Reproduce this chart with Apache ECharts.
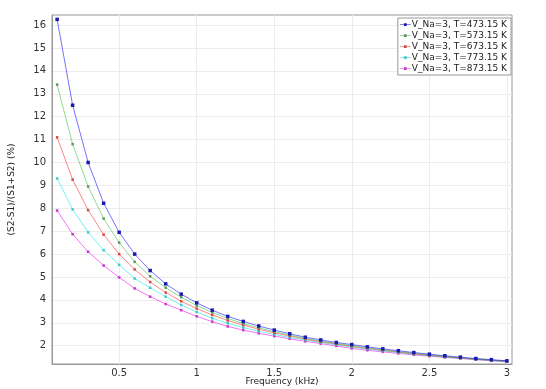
<!DOCTYPE html>
<html>
<head>
<meta charset="utf-8">
<script src="https://cdn.jsdelivr.net/npm/echarts@6/dist/echarts.min.js"></script>
<style>
  html, body { margin: 0; padding: 0; background: #fff; }
  #chart { width: 546px; height: 389px; }
</style>
</head>
<body>
<div id="chart"></div>
<script>
// Frequency points (kHz)
const freq = [0.1, 0.2, 0.3, 0.4, 0.5, 0.6, 0.7, 0.8, 0.9, 1.0,
              1.1, 1.2, 1.3, 1.4, 1.5, 1.6, 1.7, 1.8, 1.9, 2.0,
              2.1, 2.2, 2.3, 2.4, 2.5, 2.6, 2.7, 2.8, 2.9, 3.0];

const seriesNames = [
    'V_Na=3, T=473.15 K',
    'V_Na=3, T=573.15 K',
    'V_Na=3, T=673.15 K',
    'V_Na=3, T=773.15 K',
    'V_Na=3, T=873.15 K'
];

// tick positions
const xTicks = [0.5, 1, 1.5, 2, 2.5, 3];
const yTicks = [2, 3, 4, 5, 6, 7, 8, 9, 10, 11, 12, 13, 14, 15, 16];

// Values, (S2-S1)/(S1+S2) in %
const t473 = [16.25, 12.5, 10.0, 8.22, 6.95, 6.0, 5.28, 4.7, 4.25, 3.87,
              3.55, 3.28, 3.06, 2.86, 2.68, 2.52, 2.37, 2.25, 2.14, 2.05,
              1.95, 1.86, 1.78, 1.70, 1.63, 1.56, 1.50, 1.44, 1.39, 1.34];
const t573 = [13.4, 10.8, 8.95, 7.55, 6.5, 5.66, 5.03, 4.53, 4.12, 3.75,
              3.45, 3.19, 2.97, 2.78, 2.61, 2.46, 2.32, 2.2, 2.1, 2.0,
              1.91, 1.82, 1.74, 1.67, 1.60, 1.53, 1.47, 1.42, 1.37, 1.33];
const t673 = [11.1, 9.25, 7.92, 6.85, 6.0, 5.33, 4.78, 4.32, 3.94, 3.62,
              3.34, 3.1, 2.9, 2.72, 2.56, 2.42, 2.29, 2.17, 2.07, 1.97,
              1.88, 1.80, 1.72, 1.65, 1.58, 1.52, 1.46, 1.41, 1.36, 1.32];
const t773 = [9.3, 7.95, 6.95, 6.17, 5.53, 4.93, 4.53, 4.14, 3.78, 3.47,
              3.2, 2.98, 2.79, 2.63, 2.49, 2.36, 2.25, 2.14, 2.04, 1.94,
              1.85, 1.77, 1.70, 1.63, 1.56, 1.50, 1.45, 1.40, 1.35, 1.31];
const t873 = [7.9, 6.87, 6.1, 5.5, 4.98, 4.5, 4.14, 3.82, 3.55, 3.28,
              3.05, 2.84, 2.68, 2.54, 2.42, 2.3, 2.19, 2.09, 1.99, 1.88,
              1.80, 1.73, 1.66, 1.60, 1.54, 1.49, 1.44, 1.39, 1.34, 1.30];

const lineColors = ['#0000ff', '#33bb33', '#ff2222', '#00e5e5', '#ee00ee'];
const markColors = ['#1a1ab0', '#5a9a5a', '#dd4444', '#40c8c8', '#cc33cc'];

const allValues = [t473, t573, t673, t773, t873];

// legend glyph: short line with a small square marker on it
const legendIcon = 'path://M0,4.6L12,4.6L12,5.4L0,5.4Z M4.5,3.5L7.5,3.5L7.5,6.5L4.5,6.5Z';

const chart = echarts.init(document.getElementById('chart'));

const series = allValues.map((vals, i) => ({
    name: seriesNames[i],
    type: 'line',
    data: freq.map((f, j) => [f, vals[j]]),
    symbol: 'rect',
    symbolSize: i === 0 ? 3.5 : 2.5,
    showSymbol: true,
    itemStyle: { color: markColors[i] },
    lineStyle: { color: lineColors[i], width: 1, opacity: 0.55 },
    emphasis: { disabled: true },
    z: 10 - i
}));

chart.setOption({
    backgroundColor: '#fff',
    animation: false,
    textStyle: { fontFamily: 'DejaVu Sans' },
    grid: {
        left: 52, right: 34, top: 15, bottom: 25,
        outerBoundsMode: 'none',
        containLabel: false,
        show: true, borderColor: '#999', borderWidth: 1
    },
    legend: {
        right: 35, top: 18,
        orient: 'vertical',
        backgroundColor: '#fff',
        borderColor: '#999',
        borderWidth: 1,
        padding: [2, 4, 2, 2],
        itemGap: 2,
        itemWidth: 11,
        itemHeight: 8,
        textStyle: { fontSize: 9, color: '#222', padding: [0, 0, 0, -4] },
        data: seriesNames.map((n, i) => ({
            name: n,
            icon: legendIcon,
            itemStyle: { color: markColors[i] }
        }))
    },
    xAxis: {
        type: 'value',
        min: 0.067, max: 3.033,
        name: 'Frequency (kHz)',
        nameLocation: 'middle',
        nameGap: 13,
        nameMoveOverlap: false,
        nameTextStyle: { fontSize: 9, color: '#222' },
        axisLine: { lineStyle: { color: '#999' } },
        axisTick: { show: false, customValues: xTicks },
        axisLabel: { fontSize: 10, color: '#333', margin: 4, customValues: xTicks },
        splitLine: { lineStyle: { color: '#ececec' } }
    },
    yAxis: {
        type: 'value',
        min: 1.2, max: 16.44,
        name: '(S2-S1)/(S1+S2) (%)',
        nameLocation: 'middle',
        nameGap: 36,
        nameMoveOverlap: false,
        nameTextStyle: { fontSize: 9, color: '#222' },
        axisLine: { show: true, lineStyle: { color: '#999' } },
        axisTick: { show: false, customValues: yTicks },
        axisLabel: { fontSize: 10, color: '#333', margin: 6, customValues: yTicks },
        splitLine: { lineStyle: { color: '#ececec' } }
    },
    series: series
});
</script>
</body>
</html>
